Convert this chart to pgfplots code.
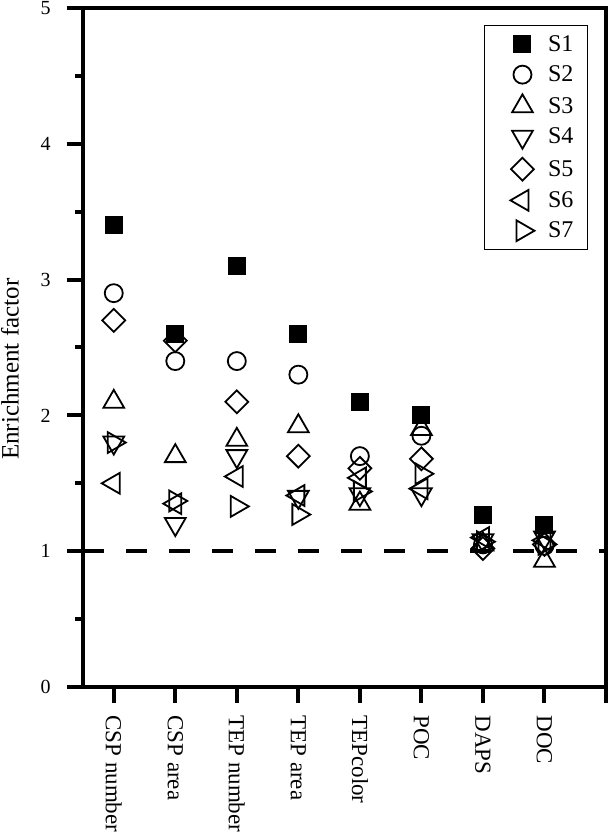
\documentclass[border=0pt]{standalone}
\usepackage{fontspec}
\setmainfont{Liberation Serif}
\usepackage{pgfplots}
\pgfplotsset{compat=1.18}
\begin{document}
\begin{tikzpicture}
\begin{axis}[
  name=ax,
  scale only axis,
  width=523pt, height=679pt,
  xmin=0.5, xmax=9, ymin=0, ymax=5,
  line width=4.2pt,
  axis line style={line width=4.2pt},
  every tick/.style={black, line width=4pt},
  tick align=outside,
  major tick length=16pt, minor tick length=8pt,
  xtick={1,2,3,4,5,6,7,8,9},
  xticklabels={CSP number,CSP area,TEP number,TEP area,TEPcolor,POC,DAPS,DOC,},
  xticklabel style={rotate=-90, anchor=west, font=\fontsize{23}{27}\selectfont},
  xticklabel shift=7pt,
  ytick={0,1,2,3,4,5},
  minor ytick={0.5,1.5,2.5,3.5,4.5},
  yticklabel style={font=\fontsize{20}{24}\selectfont},
  yticklabel shift=11pt,
  /pgf/number format/assume math mode=true,
  xtick pos=bottom, ytick pos=left,
  ylabel={\fontsize{25}{29}\selectfont Enrichment factor},
  ylabel style={at={(axis description cs:-0.1396,0.468)}, anchor=center, inner sep=0pt},
  legend style={at={(axis description cs:0.9656,0.975)}, anchor=north east, draw=black, line width=1.2pt,
    font=\fontsize{24}{28}\selectfont, row sep=9pt, inner xsep=12pt, inner ysep=8pt,
    cells={anchor=west}},
  legend cell align=left,
  legend image code/.code={\path (-25pt,0pt) (23pt,0pt); \draw[#1] plot coordinates {(0pt,0pt)};},
  clip=false,
]
\addplot[black, dashed, line width=4.5pt, dash pattern=on 21pt off 22pt, forget plot, no marks, sharp plot] coordinates {(0.5,1) (9,1)};
\addplot[only marks, mark=square*, mark size=8.5pt, mark options={fill=black, draw=black, line width=1pt}] coordinates {
 (1,3.4) (2,2.6) (3,3.1) (4,2.6) (5,2.1) (6,2.0) (7,1.27) (8,1.19)};
\addlegendentry{S1}
\addplot[only marks, mark=o, mark size=9pt, mark options={draw=black, fill=white, line width=1.8pt}] coordinates {
 (1,2.9) (2,2.4) (3,2.4) (4,2.3) (5,1.7) (6,1.85) (7,1.05) (8,1.04)};
\addlegendentry{S2}
\addplot[only marks, mark=triangle, mark size=12pt, mark options={draw=black, fill=white, line width=1.8pt}] coordinates {
 (1,2.1) (2,1.7) (3,1.82) (4,1.92) (5,1.35) (6,1.9) (7,1.05) (8,0.93)};
\addlegendentry{S3}
\addplot[only marks, mark=triangle, mark size=12pt, mark options={draw=black, fill=white, line width=1.8pt, rotate=180}] coordinates {
 (1,1.8) (2,1.2) (3,1.7) (4,1.4) (5,1.42) (6,1.42) (7,1.08) (8,1.1)};
\addlegendentry{S4}
\addplot[only marks, mark=square, mark size=8.1pt, mark options={draw=black, fill=white, line width=1.8pt, rotate=45}] coordinates {
 (1,2.7) (2,2.55) (3,2.1) (4,1.7) (5,1.61) (6,1.68) (7,1.02) (8,1.05)};
\addlegendentry{S5}
\addplot[only marks, mark=triangle, mark size=12pt, mark options={draw=black, fill=white, line width=1.8pt, rotate=90}] coordinates {
 (1,1.5) (2,1.35) (3,1.55) (4,1.41) (5,1.54) (6,1.46) (7,1.1) (8,1.08)};
\addlegendentry{S6}
\addplot[only marks, mark=triangle, mark size=12pt, mark options={draw=black, fill=white, line width=1.8pt, rotate=270}] coordinates {
 (1,1.8) (2,1.37) (3,1.33) (4,1.27) (5,1.44) (6,1.57) (7,1.07) (8,1.05)};
\addlegendentry{S7}
\end{axis}
\pgfresetboundingbox
\path[use as bounding box] ([shift={(-83pt,-148pt)}]ax.south west) rectangle ([shift={(4pt,8pt)}]ax.north east);
\end{tikzpicture}
\end{document}
